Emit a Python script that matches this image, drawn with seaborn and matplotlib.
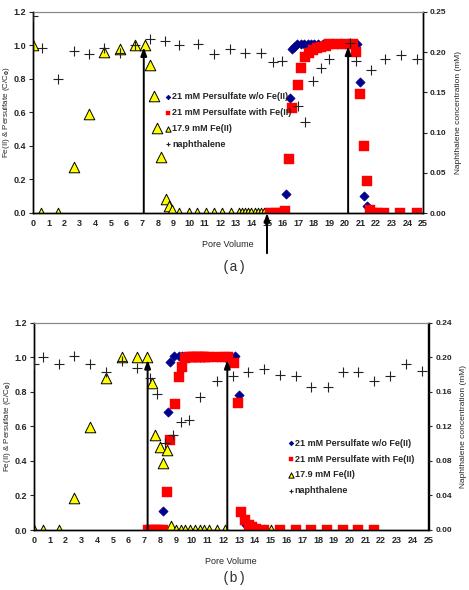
import matplotlib
matplotlib.use("Agg")
import matplotlib.pyplot as plt
import pandas as pd
import seaborn as sns

# ---- panel (a) data ----
a_fe_x = [0, 0.5, 1.6, 2.6, 3.56, 4.58, 5.6, 6.56, 7.2, 7.5, 7.74, 7.95, 8.2, 8.5, 8.7, 8.92,
          9.35, 9.99, 10.52, 11.06, 11.6, 12.13, 12.67, 13.2, 13.4, 13.6, 13.8, 14.0, 14.2,
          14.4, 14.6, 14.8, 15.0]
a_fe_y = [1.0, 0, 0, 0.275, 0.59, 0.96, 0.98, 1.0, 1.0, 0.884, 0.70, 0.505, 0.335, 0.086, 0.04,
          0.016, 0, 0, 0, 0, 0, 0, 0, 0, 0, 0, 0, 0, 0, 0, 0, 0, 0]
a_blue_x = [15.2, 15.5, 15.8, 16.2, 16.49, 16.63, 16.74, 16.95, 17.17, 17.38, 17.6, 17.8, 18.0,
            18.3, 18.6, 19.0, 19.5, 20.0, 20.5, 20.8, 20.98, 21.2, 21.4, 21.6, 21.8]
a_blue_y = [0, 0, 0, 0.116, 0.685, 0.978, 0.99, 1.01, 1.01, 1.01, 1.01, 1.01, 1.01,
            1.01, 1.01, 1.01, 1.01, 1.01, 1.01, 1.01, 0.78, 0.10, 0.04, 0.01, 0]
a_red_x = [15.2, 15.5, 15.85, 16.17, 16.42, 16.63, 16.96, 17.17, 17.43, 17.7, 17.95, 18.2, 18.45,
           18.75, 19.0, 19.5, 20.06, 20.5, 20.7, 20.98, 21.2, 21.4, 21.6, 21.8, 22.06, 22.5,
           23.55, 24.6]
a_red_y = [0, 0, 0, 0.01, 0.32, 0.625, 0.765, 0.865, 0.934, 0.954, 0.974, 0.984, 0.99,
           0.998, 1.008, 1.008, 1.008, 1.008, 0.964, 0.709, 0.40, 0.19, 0.02, 0, 0, 0, 0, 0]
a_naph_x = [0, 0.55, 1.6, 2.6, 3.56, 4.58, 5.55, 6.56, 7.48, 8.44, 9.35, 10.6, 11.6, 12.6,
            13.57, 14.6, 15.41, 15.95, 16.96, 17.43, 17.96, 18.46, 18.99, 20.3, 20.7, 21.67,
            22.57, 23.6, 24.6]
a_naph_y = [0.245, 0.205, 0.1665, 0.202, 0.198, 0.205, 0.1985, 0.209, 0.216, 0.214, 0.209, 0.21,
            0.198, 0.204, 0.199, 0.1985, 0.188, 0.189, 0.133, 0.113, 0.1645, 0.18, 0.191, 0.211,
            0.189, 0.178, 0.192, 0.196, 0.191]

# ---- panel (b) data ----
b_fe_x = [0, 0.55, 1.59, 2.56, 3.56, 4.58, 5.57, 6.53, 7.18, 7.48, 7.69, 7.97, 8.18, 8.43, 8.69,
          9.0, 9.3, 9.6, 9.9, 10.2, 10.5, 10.8, 11.1, 11.6, 12.1, 14.05, 14.58, 15.05]
b_fe_y = [0, 0, 0, 0.187, 0.598, 0.878, 1.0, 1.0, 1.0, 0.849, 0.548, 0.48, 0.385, 0.465, 0.023,
          0, 0, 0, 0, 0, 0, 0, 0, 0, 0, 0, 0, 0]
b_blue_x = [7.2, 7.4, 7.6, 7.8, 8.0, 8.18, 8.48, 8.65, 8.86, 9.18, 9.39, 9.6, 9.9, 10.2, 10.5,
            10.8, 11.1, 11.6, 12.1, 12.4, 12.75, 12.99, 13.41, 13.6, 13.8]
b_blue_y = [0, 0, 0, 0, 0, 0.11, 0.685, 0.974, 1.007, 1.007, 1.007, 1.0, 1.0, 1.0, 1.0,
            1.0, 1.0, 1.0, 1.0, 1.0, 1.007, 0.78, 0.03, 0.01, 0]
b_red_x = [7.2, 7.4, 7.6, 7.8, 8.0, 8.2, 8.43, 8.65, 8.92, 9.18, 9.39, 9.6, 9.8, 9.95, 10.1,
           10.25, 10.4, 10.55, 10.7, 10.85, 11.0, 11.57, 12.1, 12.3, 12.67, 12.93, 13.14, 13.4,
           13.62, 13.84, 14.05, 14.58, 15.6, 16.6, 17.55, 18.56, 19.56, 20.55, 21.57]
b_red_y = [0, 0, 0, 0, 0, 0, 0.222, 0.52, 0.727, 0.884, 0.945, 0.994, 1.0, 1.0, 1.0,
           1.0, 1.0, 1.0, 1.0, 1.0, 1.0, 1.0, 1.0, 1.0, 0.965, 0.733, 0.106, 0.058,
           0.029, 0.015, 0.005, 0, 0, 0, 0, 0, 0, 0, 0]
b_naph_x = [0, 0.55, 1.59, 2.56, 3.56, 4.58, 5.57, 6.53, 7.33, 7.8, 8.33, 8.82, 9.3, 9.85, 10.55,
            11.57, 12.6, 13.56, 14.58, 15.6, 16.6, 17.55, 18.6, 19.56, 20.55, 21.57, 22.58,
            23.58, 24.58]
b_naph_y = [0.192, 0.2, 0.192, 0.2015, 0.192, 0.183, 0.196, 0.188, 0.1756, 0.157, 0.101, 0.11,
            0.125, 0.127, 0.154, 0.173, 0.178, 0.183, 0.186, 0.179, 0.178, 0.166, 0.166, 0.183,
            0.183, 0.173, 0.178, 0.192, 0.184]

labels = ['21 mM Persulfate w/o Fe(II)', '21 mM Persulfate with Fe(II)',
          '17.9 mM Fe(II)', 'naphthalene']

sns.set_style("white")
plt.rcParams['font.family'] = ['Liberation Sans', 'DejaVu Sans']
plt.rcParams['font.weight'] = 'bold'

fig = plt.figure(figsize=(4.69, 5.90), dpi=100)


def draw_panel(rect, fe, blue, red, naph, rmax, rstep, arrows, leg_anchor, leg_spacing):
    ax = fig.add_axes(rect)
    ax2 = ax.twinx()
    width_px = rect[2] * 469

    sns.scatterplot(x=blue[0], y=blue[1], ax=ax, marker='D', s=22, color='#00008B',
                    edgecolor='#00008B', linewidth=0.5, label=labels[0], zorder=3)
    sns.scatterplot(x=red[0], y=red[1], ax=ax, marker='s', s=42, color='#FF0000',
                    edgecolor='#FF0000', linewidth=0.3, label=labels[1], zorder=4)
    sns.scatterplot(x=fe[0], y=fe[1], ax=ax, marker='^', s=58, color='#FFFF00',
                    edgecolor='black', linewidth=0.7, label=labels[2], zorder=2)
    sns.scatterplot(x=naph[0], y=naph[1], ax=ax2, marker='+', s=50, color='#222222',
                    linewidth=0.8, label=labels[3], zorder=3)

    for x0, top in arrows:
        ax.annotate('', xy=(x0, top), xytext=(x0, 0),
                    arrowprops=dict(arrowstyle='-|>,head_length=0.5,head_width=0.18',
                                    color='black', lw=1.4, shrinkA=0, shrinkB=0), zorder=5)

    ax.set_xlim(0, 25)
    ax.set_ylim(0, 1.2)
    ax2.set_ylim(0, rmax)
    ax.set_xticks(range(0, 26))
    ax.set_yticks([0, 0.2, 0.4, 0.6, 0.8, 1.0, 1.2])
    ax.set_yticklabels([f'{v:.1f}' for v in ax.get_yticks()])
    rt = [i * rstep for i in range(int(round(rmax / rstep)) + 1)]
    ax2.set_yticks(rt)
    ax2.set_yticklabels([f'{v:.2f}' for v in rt])

    ax.tick_params(axis='x', direction='in', length=3, labelsize=6.5, pad=4)
    ax.tick_params(axis='y', direction='out', length=3, labelsize=6.5, pad=2, left=True)
    ax2.tick_params(axis='y', direction='out', length=3, labelsize=6, pad=2, right=True)

    for sp in ['left', 'bottom', 'right']:
        ax.spines[sp].set_color('black')
        ax.spines[sp].set_linewidth(1.0)
        ax2.spines[sp].set_color('black')
        ax2.spines[sp].set_linewidth(1.0)
    ax.spines['top'].set_color('#888888')
    ax2.spines['top'].set_color('#888888')
    ax.spines['top'].set_linewidth(0.8)

    ax.set_xlabel('Pore Volume', fontsize=6.5, labelpad=9)
    ax.set_ylabel('Fe(II) & Persulfate (C/C$_0$)', fontsize=5.8)
    ax.yaxis.set_label_coords(-21 / width_px, 0.5)
    ax2.set_ylabel('Naphthalene concentration (mM)', fontsize=6, labelpad=6)

    h1, l1 = ax.get_legend_handles_labels()
    h2, l2 = ax2.get_legend_handles_labels()
    if ax.get_legend() is not None:
        ax.get_legend().remove()
    if ax2.get_legend() is not None:
        ax2.get_legend().remove()
    ax2.legend(h1 + h2, l1 + l2, loc='upper left', bbox_to_anchor=leg_anchor, frameon=False,
               prop={'family': ['Liberation Sans Narrow', 'Liberation Sans', 'DejaVu Sans'],
                     'weight': 'bold', 'size': 6.5},
               handlelength=0.5, handletextpad=0.2, labelspacing=leg_spacing,
               borderpad=0, borderaxespad=0, markerscale=0.5)
    return ax, ax2


ax_a, ax2_a = draw_panel([33 / 469, 1 - 213 / 590, 390 / 469, 201 / 590],
                         (a_fe_x, a_fe_y), (a_blue_x, a_blue_y), (a_red_x, a_red_y),
                         (a_naph_x, a_naph_y), 0.25, 0.05,
                         [(7.1, 0.99), (20.2, 0.995)], (0.34, 0.60), 0.75)
# arrow below the axis at 15 pore volumes
ax_a.annotate('', xy=(15.0, 0), xytext=(15.0, -0.24),
              arrowprops=dict(arrowstyle='-|>,head_length=0.5,head_width=0.18',
                              color='black', lw=1.4, shrinkA=0, shrinkB=0),
              annotation_clip=False)

ax_b, ax2_b = draw_panel([34 / 469, 1 - 530 / 590, 394.5 / 469, 207.3 / 590],
                         (b_fe_x, b_fe_y), (b_blue_x, b_blue_y), (b_red_x, b_red_y),
                         (b_naph_x, b_naph_y), 0.24, 0.04,
                         [(7.2, 0.985), (12.25, 0.985)], (0.645, 0.44), 0.75)

fig.text(0.50, 1 - 267 / 590, '(a)', ha='center', va='center', fontsize=10,
         family=['Liberation Mono', 'DejaVu Sans Mono'], fontweight='normal', color='#333333')
fig.text(0.50, 1 - 578 / 590, '(b)', ha='center', va='center', fontsize=10,
         family=['Liberation Mono', 'DejaVu Sans Mono'], fontweight='normal', color='#333333')

fig.savefig('out.png', dpi=100)
